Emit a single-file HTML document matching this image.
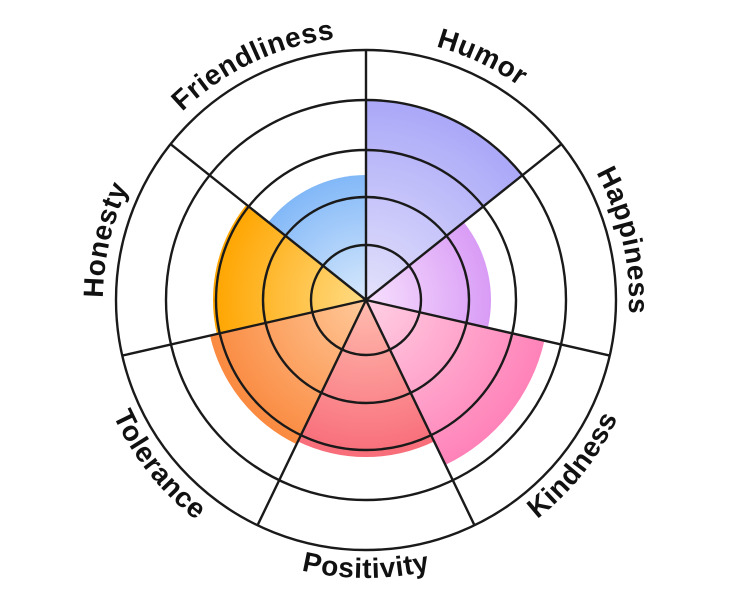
<!DOCTYPE html>
<html><head><meta charset="utf-8"><style>
html,body{margin:0;padding:0;background:#fff;}
svg{display:block;}
text{font-family:"Liberation Sans",sans-serif;font-weight:bold;font-size:28px;letter-spacing:0.6px;fill:#111;}
</style></head><body>
<svg width="732" height="600" viewBox="0 0 732 600">
<defs>
<radialGradient id="g1" gradientUnits="userSpaceOnUse" cx="366" cy="300" r="200"><stop offset="0" stop-color="#e4e2fb"/><stop offset="1" stop-color="#aaa8f8"/></radialGradient>
<radialGradient id="g2" gradientUnits="userSpaceOnUse" cx="366" cy="300" r="125"><stop offset="0" stop-color="#f7e0fd"/><stop offset="1" stop-color="#d99cf6"/></radialGradient>
<radialGradient id="g3" gradientUnits="userSpaceOnUse" cx="366" cy="300" r="183"><stop offset="0" stop-color="#ffd0e4"/><stop offset="1" stop-color="#ff82b8"/></radialGradient>
<radialGradient id="g4" gradientUnits="userSpaceOnUse" cx="366" cy="300" r="157"><stop offset="0" stop-color="#ffbcaf"/><stop offset="1" stop-color="#f86d7a"/></radialGradient>
<radialGradient id="g5" gradientUnits="userSpaceOnUse" cx="366" cy="300" r="160"><stop offset="0" stop-color="#ffc99a"/><stop offset="1" stop-color="#fa8a40"/></radialGradient>
<radialGradient id="g6" gradientUnits="userSpaceOnUse" cx="366" cy="300" r="153"><stop offset="0" stop-color="#ffdc85"/><stop offset="1" stop-color="#ffa500"/></radialGradient>
<radialGradient id="g7" gradientUnits="userSpaceOnUse" cx="366" cy="300" r="125"><stop offset="0" stop-color="#d8e9fc"/><stop offset="1" stop-color="#82b8f8"/></radialGradient>
<path id="cw" d="M366,37 A263,263 0 1 1 366,563 A263,263 0 1 1 366,37"/>
<path id="ccw" d="M366,22 A278,278 0 1 0 366,578 A278,278 0 1 0 366,22"/>
</defs>
<path d="M366,300 L366,100 A200,200 0 0 1 522.4,175.3 Z" fill="url(#g1)"/>
<path d="M366,300 L463.7,222.1 A125,125 0 0 1 487.9,327.8 Z" fill="url(#g2)"/>
<path d="M366,300 L544.4,340.7 A183,183 0 0 1 445.4,464.9 Z" fill="url(#g3)"/>
<path d="M366,300 L434.1,441.5 A157,157 0 0 1 297.9,441.5 Z" fill="url(#g4)"/>
<path d="M366,300 L296.6,444.2 A160,160 0 0 1 210,335.6 Z" fill="url(#g5)"/>
<path d="M366,300 L216.8,334 A153,153 0 0 1 246.4,204.6 Z" fill="url(#g6)"/>
<path d="M366,300 L268.3,222.1 A125,125 0 0 1 366,175 Z" fill="url(#g7)"/>
<g fill="none" stroke="#1a1a1a" stroke-width="2.4">
<circle cx="366" cy="300" r="250"/>
<circle cx="366" cy="300" r="200"/>
<circle cx="366" cy="300" r="150"/>
<circle cx="366" cy="300" r="103"/>
<circle cx="366" cy="300" r="55"/>
<path d="M366,300L366,50M366,300L561.5,144.1M366,300L609.7,355.6M366,300L474.5,525.3M366,300L257.5,525.3M366,300L122.3,355.6M366,300L170.5,144.1"/>
</g>
<text><textPath href="#cw" startOffset="7.1%" text-anchor="middle">Humor</textPath></text>
<text><textPath href="#cw" startOffset="21.4%" text-anchor="middle">Happiness</textPath></text>
<text><textPath href="#cw" startOffset="78.6%" text-anchor="middle">Honesty</textPath></text>
<text><textPath href="#cw" startOffset="92.9%" text-anchor="middle">Friendliness</textPath></text>
<text><textPath href="#ccw" startOffset="64.3%" text-anchor="middle">Kindness</textPath></text>
<text><textPath href="#ccw" startOffset="50%" text-anchor="middle">Positivity</textPath></text>
<text><textPath href="#ccw" startOffset="35.7%" text-anchor="middle">Tolerance</textPath></text>
</svg>
</body></html>
